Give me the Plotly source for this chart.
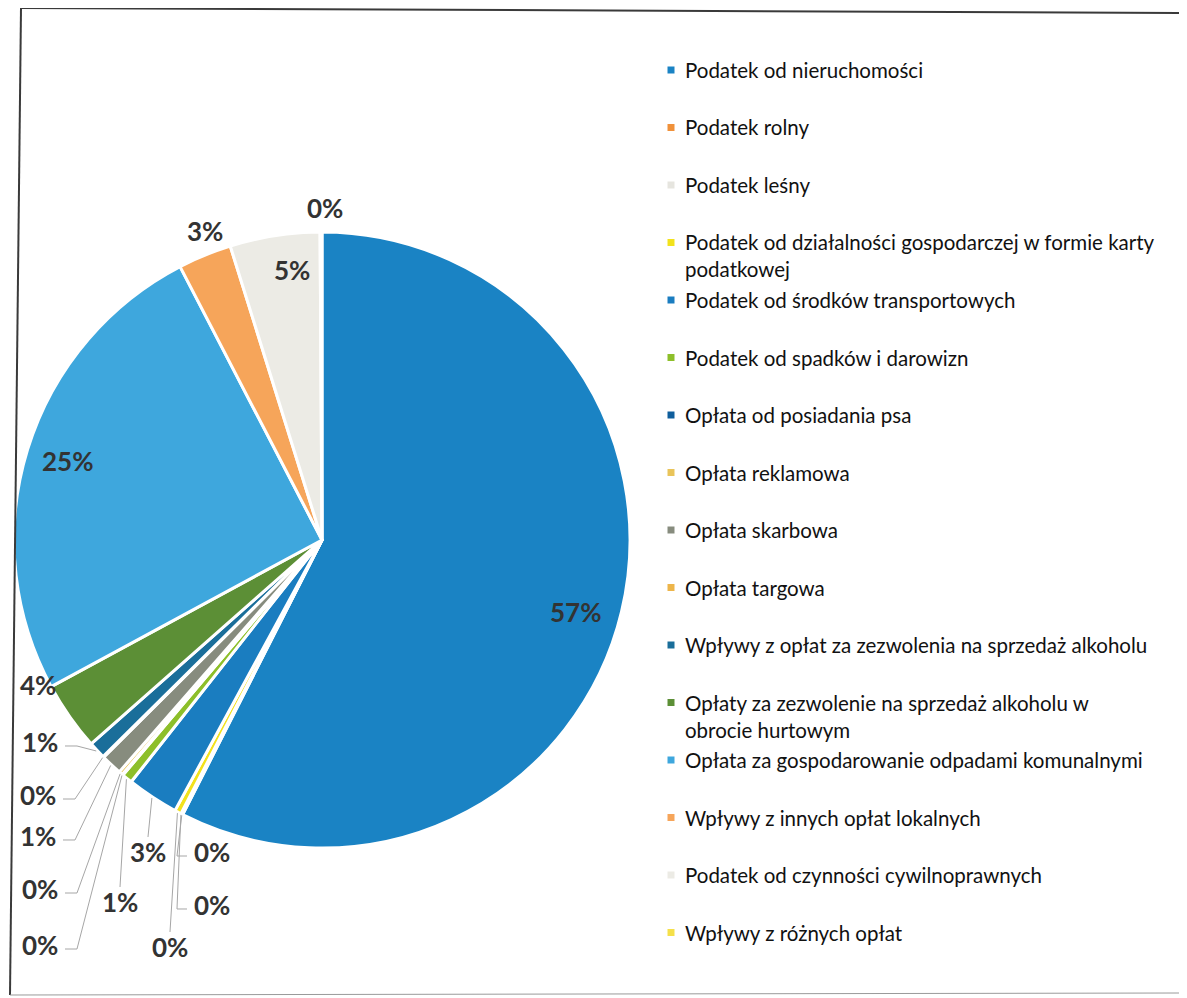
import math
import plotly.graph_objects as go

# ---------------- data ----------------
categories = [
    "Podatek od nieruchomości",
    "Podatek rolny",
    "Podatek leśny",
    "Podatek od działalności gospodarczej w formie karty podatkowej",
    "Podatek od środków transportowych",
    "Podatek od spadków i darowizn",
    "Opłata od posiadania psa",
    "Opłata reklamowa",
    "Opłata skarbowa",
    "Opłata targowa",
    "Wpływy z opłat za zezwolenia na sprzedaż alkoholu",
    "Opłaty za zezwolenie na sprzedaż alkoholu w obrocie hurtowym",
    "Opłata za gospodarowanie odpadami komunalnymi",
    "Wpływy z innych opłat lokalnych",
    "Podatek od czynności cywilnoprawnych",
    "Wpływy z różnych opłat",
]
values = [57.3, 0.05, 0.05, 0.35, 2.7, 0.55, 0.05, 0.2, 1.1, 0.05, 0.9, 3.6, 25.2, 2.8, 4.7, 0.1]
colors = [
    "#1A83C4", "#F0913A", "#E6E5DF", "#F2E21C", "#1A7DC0", "#8DBF2A",
    "#0F5E9C", "#E9C45A", "#878C7E", "#EDB54A", "#1A6E9A", "#5C8F36",
    "#3EA7DD", "#F6A55A", "#ECEBE5", "#F5E04A",
]

# ---------------- layout geometry (pixels, in page coordinates) ----------------
PAGE_W, PAGE_H = 1187, 998
OFF = 8                     # default page margin around the figure
W, H = PAGE_W - OFF, PAGE_H - OFF
CX, CY, R = 322, 540, 308

# label placement: (x, y, leader side)
label_place = [
    (575, 612, None), (212, 852, "left"), (212, 905, "left"), (170, 947, "top"),
    (148, 852, "top"), (120, 902, "top"), (40, 945, "right"), (40, 889, "right"),
    (38, 836, "right"), (38, 795, "right"), (40, 742, "right"), (38, 685, None),
    (68, 461, None), (205, 231, None), (292, 270, None), (325, 208, None),
]


def px(x):
    return (x - OFF) / W


def py(y):
    return 1 - (y - OFF) / H


fig = go.Figure(
    go.Pie(
        labels=categories,
        values=values,
        sort=False,
        direction="clockwise",
        rotation=0,
        marker=dict(colors=colors, line=dict(color="white", width=3)),
        textinfo="none",
        showlegend=False,
        hovertemplate="%{label}: %{percent}<extra></extra>",
        domain=dict(x=[px(CX - R), px(CX + R)], y=[py(CY + R), py(CY - R)]),
    )
)

total = sum(values)
pct_text = [f"{round(v / total * 100)}%" for v in values]

annotations = []
shapes = []
cum = 0.0
for i, v in enumerate(values):
    mid = (cum + v / 2) / total * 360.0
    cum += v
    lx, ly, side = label_place[i]
    annotations.append(dict(
        x=px(lx), y=py(ly), xref="paper", yref="paper", text=f"<b>{pct_text[i]}</b>",
        showarrow=False, xanchor="center", yanchor="middle",
        font=dict(family="Lato", size=26, color="#333333"),
    ))
    if side is not None:
        ex = CX + (R + 1) * math.sin(math.radians(mid))
        ey = CY - (R + 1) * math.cos(math.radians(mid))
        if side == "right":
            pts = [(lx + 25, ly + 4), (lx + 37, ly + 4), (ex, ey)]
        elif side == "left":
            pts = [(lx - 25, ly + 4), (lx - 35, ly + 4), (ex, ey)]
        else:
            pts = [(lx, ly - 15), (ex, ey)]
        path = "M " + " L ".join(f"{px(a):.5f},{py(b):.5f}" for a, b in pts)
        shapes.append(dict(type="path", path=path, xref="paper", yref="paper",
                           line=dict(color="#A6A6A6", width=1)))

# ---------------- legend (drawn to match original spacing) ----------------
LEG_X_MARK, LEG_X_TEXT, LEG_Y0, LEG_STEP = 671, 683, 70, 57.5
for i, name in enumerate(categories):
    yc = LEG_Y0 + i * LEG_STEP
    disp = name.replace("karty podatkowej", "karty<br>podatkowej").replace(
        "alkoholu w obrocie", "alkoholu w<br>obrocie")
    shapes.append(dict(type="rect", xref="paper", yref="paper",
                       x0=px(LEG_X_MARK - 3.5), x1=px(LEG_X_MARK + 3.5),
                       y0=py(yc + 3.5), y1=py(yc - 3.5),
                       fillcolor=colors[i], line=dict(width=0)))
    annotations.append(dict(
        x=px(LEG_X_TEXT), y=py(yc - 14), xref="paper", yref="paper", text=disp,
        showarrow=False, xanchor="left", yanchor="top", align="left",
        font=dict(family="Lato", size=20.5, color="#111111"),
    ))

# ---------------- frame ----------------
frame_line = dict(color="#3a3a3a", width=2)
shapes += [
    dict(type="line", xref="paper", yref="paper", x0=px(21), y0=py(8), x1=px(1187), y1=py(13), line=frame_line),
    dict(type="line", xref="paper", yref="paper", x0=px(21), y0=py(8), x1=px(10), y1=py(995), line=frame_line),
    dict(type="line", xref="paper", yref="paper", x0=px(10), y0=py(995), x1=px(1187), y1=py(993),
         line=dict(color="#9a9a9a", width=1)),
]

fig.update_layout(
    width=W, height=H,
    margin=dict(l=0, r=0, t=0, b=0),
    paper_bgcolor="white", plot_bgcolor="white",
    annotations=annotations, shapes=shapes,
    font=dict(family="Lato"),
)

fig.write_html("out.html")
